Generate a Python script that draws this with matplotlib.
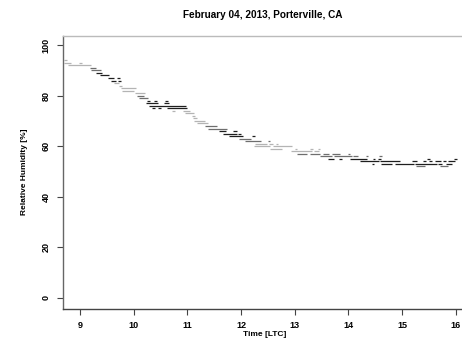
import matplotlib
matplotlib.use("Agg")
import matplotlib.pyplot as plt

# Observation runs: start time (h), end time (h), relative humidity (%), shade
t_start = [8.70, 8.70, 8.98, 8.78, 9.19, 9.20, 9.30, 9.37, 9.52, 9.69, 9.58, 9.71,
           9.63, 9.73, 9.76, 9.78, 10.02, 10.06, 10.10,
           10.25, 10.38, 10.58, 10.23, 10.56, 10.28, 10.34, 10.45, 10.62,
           10.71, 10.92, 10.96, 11.09, 11.10, 11.12, 11.18, 11.33, 11.38,
           11.59, 11.85, 11.66, 11.94, 11.77, 12.20, 11.96, 12.07, 12.50,
           12.26, 12.52, 12.65, 12.24, 12.59,
           12.54, 13.00, 13.28, 13.43, 12.93, 13.36,
           13.04, 13.28, 13.53, 13.69, 13.99,
           13.47, 13.73, 14.08, 14.33, 14.57,
           13.62, 13.82, 14.03, 14.46, 14.55, 15.46, 15.96,
           14.21, 14.59, 15.18, 15.39, 15.50, 15.61, 15.76, 15.85,
           14.44, 14.61, 14.87, 15.24, 15.67, 15.82,
           15.26, 15.70]
t_end = [8.76, 8.83, 9.04, 9.20, 9.30, 9.39, 9.41, 9.54, 9.63, 9.74, 9.67, 9.76,
         9.73, 9.78, 10.04, 10.01, 10.21, 10.19, 10.27,
         10.30, 10.43, 10.64, 10.45, 10.66, 10.97, 10.40, 10.51, 11.00,
         10.77, 11.05, 11.12, 11.14, 11.18, 11.33, 11.38, 11.55, 11.74,
         11.72, 11.92, 11.92, 12.00, 12.04, 12.26, 12.18, 12.37, 12.54,
         12.48, 12.59, 12.69, 12.54, 12.95,
         12.76, 13.04, 13.34, 13.47, 13.32, 13.45,
         13.23, 13.47, 13.64, 13.84, 14.03,
         13.69, 14.07, 14.18, 14.36, 14.62,
         13.73, 13.88, 14.34, 14.49, 14.61, 15.52, 16.02,
         14.57, 14.96, 15.28, 15.44, 15.55, 15.72, 15.82, 15.98,
         14.47, 14.81, 15.22, 15.65, 15.74, 15.93,
         15.42, 15.85]
rh = [94, 93, 93, 92, 91, 90, 89, 88, 87, 87, 86, 86,
      85, 84, 83, 82, 81, 80, 79,
      78, 78, 78, 77, 77, 76, 75, 75, 75,
      74, 74, 73, 72, 71, 70, 69, 68, 67,
      66, 66, 65, 65, 64, 64, 63, 62, 62,
      61, 61, 61, 60, 60,
      59, 59, 59, 59, 58, 58,
      57, 57, 57, 57, 57,
      56, 56, 56, 56, 56,
      55, 55, 55, 55, 55, 55, 55,
      54, 54, 54, 54, 54, 54, 54, 54,
      53, 53, 53, 53, 53, 53,
      52, 52]
shade = ["l", "l", "l", "l", "m", "m", "d", "d", "d", "d", "d", "d",
         "l", "l", "l", "l", "l", "m", "m",
         "d", "d", "d", "d", "d", "d", "d", "d", "d",
         "l", "l", "l", "l", "l", "l", "l", "m", "m",
         "d", "d", "d", "d", "d", "d", "m", "m", "m",
         "l", "l", "l", "l", "l",
         "l", "l", "l", "l", "l", "l",
         "m", "m", "m", "m", "m",
         "m", "m", "m", "m", "m",
         "d", "d", "d", "d", "d", "d", "d",
         "d", "d", "d", "d", "d", "d", "d", "d",
         "d", "d", "d", "d", "d", "d",
         "m", "m"]

x_ticks = [9, 10, 11, 12, 13, 14, 15, 16]
y_ticks = [0, 20, 40, 60, 80, 100]
title = "February 04, 2013, Porterville, CA"
xlabel = "Time [LTC]"
ylabel = "Relative Humidity [%]"

shade_colors = {"l": "#b4b4b4", "m": "#6e6e6e", "d": "#1e1e1e"}

fig = plt.figure(figsize=(4.62, 3.49), dpi=100)
ax = fig.add_axes([63 / 462, 1 - 309 / 349, 1 - 63 / 462, (309 - 36) / 349])

ax.hlines(rh, t_start, t_end, colors=[shade_colors[s] for s in shade], linewidth=0.9)

ax.set_xlim(8.683, 16.114)
ax.set_ylim(-4.37, 103.6)
ax.set_xticks(x_ticks)
ax.set_yticks(y_ticks)

font = dict(family="Liberation Sans", weight="bold")
ax.set_xticklabels([str(v) for v in x_ticks], fontsize=6.5, **font)
ax.set_yticklabels([str(v) for v in y_ticks], fontsize=6.5, rotation=90, va="center", **font)
ax.tick_params(axis="both", direction="out", length=4, width=0.8, color="#444444", pad=5)

ax.spines["right"].set_visible(False)
ax.spines["top"].set_color("#bbbbbb")
ax.spines["left"].set_color("#666666")
ax.spines["bottom"].set_color("#444444")
for sp in ax.spines.values():
    sp.set_linewidth(1.0)

fig.text((63 + 462) / 2 / 462, 1 - 15 / 349, title, ha="center", va="center", fontsize=7.2, **font)
fig.text((63 + 462) / 2 / 462 + 0.005, 1 - 334 / 349, xlabel, ha="center", va="center", fontsize=6, **font)
fig.text(25 / 462, 1 - 172 / 349, ylabel, ha="center", va="center", rotation=90, fontsize=6, **font)

fig.savefig("out.png", dpi=100)
